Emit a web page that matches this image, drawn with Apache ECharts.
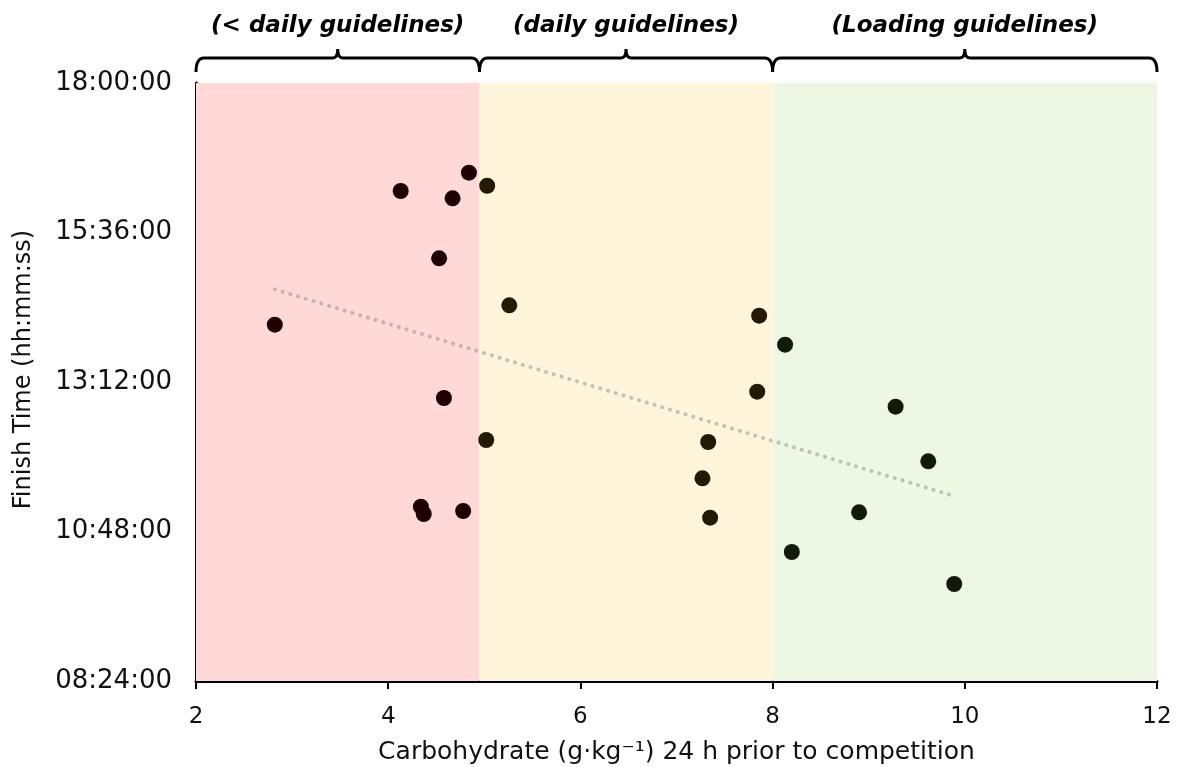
<!DOCTYPE html>
<html>
<head>
<meta charset="utf-8">
<script src="https://cdn.jsdelivr.net/npm/echarts@6/dist/echarts.min.js"></script>
<style>
  html, body { margin: 0; padding: 0; background: #fff; }
  #main { width: 1177px; height: 767px; }
</style>
</head>
<body>
<div id="main"></div>
<script>
// carbohydrate intake (g/kg) and finish time for each athlete
var carbs = [2.82, 4.13, 4.84, 4.67, 4.53, 4.58, 4.34, 4.37, 4.78, 5.03, 5.26, 5.02,
  7.86, 7.84, 7.33, 7.27, 7.35, 8.13, 9.28, 9.62, 8.90, 8.20, 9.89];
var finishTimes = ['14:07:11', '16:15:57', '16:33:35', '16:08:55', '15:11:08', '12:56:35',
  '11:11:53', '11:04:51', '11:07:44', '16:21:03', '14:25:52', '12:16:07',
  '14:15:51', '13:02:39', '12:14:12', '11:39:14', '11:01:17', '13:47:55',
  '12:48:12', '11:55:36', '11:06:29', '10:28:15', '09:57:26'];

// trend line ends
var trendX = [2.82, 9.85];
var trendTimes = ['14:41:16', '11:23:09'];

// guideline zones
var bandStart = [2, 4.95, 8];
var bandEnd = [4.95, 8, 12];
var bandNames = ['(< daily guidelines)', '(daily guidelines)', '(Loading guidelines)'];
var bandColors = ['#ffd8d8', '#fff5da', '#eef6e4'];
var dotColors = ['#1e0002', '#221a02', '#121a0a'];

var xTicks = [2, 4, 6, 8, 10, 12];
var yTickLabels = ['08:24:00', '10:48:00', '13:12:00', '15:36:00', '18:00:00'];

function toSec(s) {
  var p = s.split(':');
  return (+p[0]) * 3600 + (+p[1]) * 60 + (+p[2]);
}
function pad(n) { return (n < 10 ? '0' : '') + n; }
function toHMS(v) {
  var h = Math.floor(v / 3600), m = Math.floor((v % 3600) / 60), s = Math.round(v % 60);
  return pad(h) + ':' + pad(m) + ':' + pad(s);
}

var yMin = toSec(yTickLabels[0]);
var yMax = toSec(yTickLabels[yTickLabels.length - 1]);
var yStep = toSec(yTickLabels[1]) - yMin;

function zoneOf(x) {
  for (var i = 0; i < bandEnd.length; i++) {
    if (x < bandEnd[i]) return i;
  }
  return bandEnd.length - 1;
}

var points = [];
for (var i = 0; i < carbs.length; i++) {
  points.push({
    value: [carbs[i], toSec(finishTimes[i])],
    itemStyle: { color: dotColors[zoneOf(carbs[i])], opacity: 1 }
  });
}

var areas = [];
var braces = [];
for (var j = 0; j < bandStart.length; j++) {
  areas.push([{ xAxis: bandStart[j], itemStyle: { color: bandColors[j], opacity: 1 } }, { xAxis: bandEnd[j] }]);
  braces.push([bandStart[j], bandEnd[j], bandNames[j]]);
}

var font = 'DejaVu Sans, Verdana, sans-serif';

var myChart = echarts.init(document.getElementById('main'));
myChart.setOption({
  animation: false,
  grid: { left: 196, right: 20, top: 83, bottom: 86, outerBoundsMode: 'none' },
  xAxis: {
    type: 'value',
    min: xTicks[0],
    max: xTicks[xTicks.length - 1],
    interval: 2,
    name: 'Carbohydrate (g\u00b7kg\u207b\u00b9) 24 h prior to competition',
    nameLocation: 'middle',
    nameGap: 59,
    nameTextStyle: { fontFamily: font, fontSize: 25, color: '#111' },
    axisLine: { show: true, lineStyle: { color: '#000', width: 3 } },
    axisTick: { show: true, length: 8, lineStyle: { color: '#000', width: 2 } },
    axisLabel: { fontFamily: font, fontSize: 23, color: '#111', margin: 25 },
    splitLine: { show: false }
  },
  yAxis: {
    type: 'value',
    min: yMin,
    max: yMax,
    interval: yStep,
    name: 'Finish Time (hh:mm:ss)',
    nameLocation: 'middle',
    nameGap: 160,
    nameTextStyle: { fontFamily: font, fontSize: 24, color: '#111', padding: [0, 0, 0, 25] },
    axisLine: { show: true, lineStyle: { color: '#000', width: 3 } },
    axisTick: { show: false },
    axisLabel: {
      fontFamily: font, fontSize: 26, color: '#111', margin: 24,
      formatter: function (v) { return toHMS(v); }
    },
    splitLine: { show: false }
  },
  series: [
    {
      type: 'scatter',
      symbolSize: 16,
      data: points,
      z: 3,
      markArea: { silent: true, data: areas }
    },
    {
      type: 'line',
      data: [[trendX[0], toSec(trendTimes[0])], [trendX[1], toSec(trendTimes[1])]],
      symbol: 'none',
      z: 2,
      lineStyle: { color: 'rgba(150,150,150,0.55)', width: 4, type: [0.1, 8], cap: 'round' }
    },
    {
      type: 'custom',
      data: braces,
      clip: false,
      renderItem: function (params, api) {
        var a = api.coord([api.value(0), yMax]);
        var b = api.coord([api.value(1), yMax]);
        var x0 = a[0], x1 = b[0], top = a[1];
        var mid = (x0 + x1) / 2;
        var yl = top - 25, ye = top - 11, yp = top - 34;
        var d = 'M' + x0 + ',' + ye + ' Q' + x0 + ',' + yl + ' ' + (x0 + 8) + ',' + yl +
          ' L' + (mid - 5) + ',' + yl + ' Q' + mid + ',' + yl + ' ' + mid + ',' + yp +
          ' Q' + mid + ',' + yl + ' ' + (mid + 5) + ',' + yl +
          ' L' + (x1 - 8) + ',' + yl + ' Q' + x1 + ',' + yl + ' ' + x1 + ',' + ye;
        return {
          type: 'group',
          children: [
            {
              type: 'path',
              shape: { pathData: d },
              style: { fill: null, stroke: '#000', lineWidth: 3 }
            },
            {
              type: 'text',
              style: {
                text: bandNames[params.dataIndex],
                x: mid, y: top - 57,
                textAlign: 'center', textVerticalAlign: 'middle',
                fontFamily: font, fontSize: 23, fontWeight: 'bold', fontStyle: 'italic',
                fill: '#000'
              }
            }
          ]
        };
      }
    }
  ]
});
</script>
</body>
</html>
